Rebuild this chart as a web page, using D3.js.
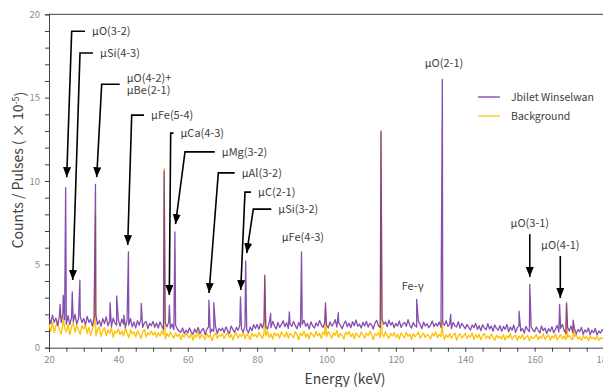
<!DOCTYPE html>
<html>
<head>
<meta charset="utf-8">
<script src="https://cdn.jsdelivr.net/npm/d3@7"></script>
<style>
  body { margin: 0; background: #fff; }
  text { font-family: "Noto Sans CJK JP", "Noto Sans", sans-serif; }
</style>
</head>
<body>
<svg id="chart" width="603" height="387"></svg>
<script>
var energyStart = 20, energyStep = 0.5;

var sampleBase = [
  1.85,1.45,1.95,1.52,1.78,1.32,1.90,1.50,2.05,1.68, 1.40,1.92,1.38,1.80,1.55,2.00,1.42,1.72,1.88,1.50,
  1.75,1.38,1.88,1.52,1.70,1.30,1.78,1.95,1.40,1.62, 1.28,1.74,1.45,1.85,1.32,1.60,1.25,1.78,1.48,1.35,
  1.66,1.28,1.72,1.42,1.20,1.65,1.35,1.75,1.25,1.55, 1.18,1.62,1.34,1.70,1.22,1.48,1.58,1.15,1.45,1.32,
  1.58,1.22,1.48,1.18,1.55,1.30,1.10,1.50,1.25,1.52, 1.15,1.42,1.08,1.35,1.12,1.00,0.92,1.18,0.85,1.05,
  0.88,1.18,0.95,0.80,1.12,0.90,1.22,0.84,1.05,1.15, 0.78,1.10,1.25,0.88,1.12,0.98,1.28,0.85,1.15,1.02,
  1.18,0.90,1.25,1.02,0.85,1.30,1.10,0.92,1.22,1.04, 1.35,1.12,0.95,1.28,1.10,0.88,1.24,1.02,1.38,1.15,
  1.40,1.10,1.45,1.18,1.55,1.25,1.12,1.50,1.20,1.58, 1.30,1.12,1.52,1.22,1.38,1.62,1.25,1.50,1.15,1.42,
  1.28,1.58,1.32,1.14,1.52,1.24,1.40,1.65,1.28,1.46, 1.12,1.55,1.32,1.18,1.48,1.30,1.64,1.36,1.22,1.52,
  1.38,1.18,1.55,1.30,1.44,1.68,1.24,1.50,1.35,1.14, 1.42,1.60,1.26,1.48,1.20,1.56,1.32,1.66,1.28,1.42,
  1.18,1.52,1.30,1.58,1.24,1.46,1.38,1.12,1.50,1.64, 1.30,1.22,1.72,1.40,1.55,1.26,1.65,1.36,1.52,1.20,
  1.46,1.30,1.60,1.22,1.42,1.52,1.28,1.68,1.34,1.18, 1.50,1.32,1.24,1.58,1.40,1.14,1.54,1.30,1.44,1.20,
  1.36,1.60,1.26,1.46,1.30,1.54,1.22,1.50,1.34,1.62, 1.28,1.42,1.14,1.52,1.32,1.24,1.56,1.18,1.46,1.30,
  1.14,1.40,1.22,1.06,1.36,1.20,1.46,1.10,1.32,1.02, 1.38,1.18,1.08,1.44,1.12,1.30,0.98,1.36,1.16,1.04,
  1.32,0.98,1.28,1.10,1.40,0.95,1.24,1.05,1.36,0.92, 1.20,1.32,1.00,1.16,0.88,1.28,1.08,0.96,1.26,1.06,
  0.96,1.24,1.06,0.88,1.30,1.02,1.18,0.85,1.14,0.98, 1.26,0.90,1.10,1.34,0.94,1.16,1.40,1.04,0.86,1.22,
  1.00,1.30,0.92,1.14,0.82,1.10,0.96,1.22,0.80,1.06, 0.94,1.18,0.78,1.04,0.90,1.16,0.76,1.00,0.88,1.08,
  0.96
];

var backgroundBase = [
  1.42,0.98,1.52,0.90,1.30,1.55,1.05,0.82,1.45,1.18, 0.95,1.38,0.78,1.25,1.50,0.92,1.35,1.05,0.80,1.32,
  1.12,1.40,0.85,1.22,0.75,1.10,1.35,0.70,1.08,1.25, 0.68,1.02,1.20,0.72,1.06,0.85,1.18,0.62,1.00,0.88,
  1.12,0.78,1.00,0.70,1.18,0.88,0.60,1.08,0.82,0.96, 0.66,1.02,0.80,0.55,0.94,1.10,0.64,0.90,0.78,1.00,
  0.75,0.95,0.62,0.90,0.70,1.00,0.80,0.52,0.86,0.66, 0.94,0.74,0.58,0.88,0.68,0.82,0.48,0.78,0.64,0.86,
  0.70,0.58,0.84,0.45,0.76,0.64,0.92,0.54,0.80,0.66, 0.50,0.86,0.62,0.78,0.42,0.72,0.88,0.56,0.76,0.68,
  0.84,0.55,0.74,0.94,0.60,0.80,0.46,0.76,0.88,0.58, 0.78,0.66,0.96,0.54,0.82,0.70,0.48,0.86,0.68,0.80,
  0.62,0.92,0.74,0.55,0.88,0.70,0.98,0.62,0.82,0.52, 0.90,0.72,0.84,0.58,0.96,0.76,0.64,0.94,0.56,0.86,
  0.74,0.60,0.96,0.78,0.48,0.88,0.72,1.00,0.62,0.84, 0.54,0.92,0.76,0.64,0.98,0.70,0.86,0.56,0.94,0.78,
  0.66,0.96,0.80,0.56,0.90,0.74,1.02,0.60,0.86,0.72, 0.52,0.92,0.78,0.98,0.66,0.84,0.54,0.88,0.74,0.62,
  0.94,0.76,0.58,0.88,0.70,0.98,0.78,0.48,0.84,0.74, 0.90,0.60,0.82,0.66,0.96,0.72,0.56,0.86,0.70,0.92,
  0.62,0.80,0.52,0.88,0.72,0.58,0.92,0.68,0.82,0.50, 0.84,0.66,0.78,0.94,0.56,0.74,0.88,0.60,0.80,0.70,
  0.52,0.86,0.70,0.96,0.60,0.80,0.66,0.90,0.50,0.78, 0.62,0.84,0.56,0.74,0.88,0.46,0.72,0.84,0.58,0.70,
  0.86,0.56,0.74,0.64,0.88,0.50,0.78,0.60,0.80,0.48, 0.72,0.86,0.56,0.70,0.54,0.82,0.62,0.44,0.76,0.60,
  0.68,0.52,0.80,0.46,0.72,0.58,0.84,0.50,0.66,0.76, 0.44,0.70,0.56,0.80,0.48,0.64,0.74,0.42,0.68,0.56,
  0.62,0.80,0.48,0.68,0.56,0.84,0.50,0.66,0.76,0.44, 0.70,0.58,0.82,0.48,0.64,0.78,0.52,0.70,0.46,0.62,
  0.74,0.56,0.48,0.68,0.78,0.52,0.64,0.44,0.72,0.56, 0.66,0.42,0.70,0.54,0.62,0.48,0.68,0.44,0.60,0.54,
  0.58
];

// peak tops [keV, counts]
var samplePeaks = [
  [23.2, 2.6], [24.1, 3.15], [24.8, 9.6], [26.7, 3.35], [28.9, 4.05], [33.4, 9.8],
  [37.6, 2.7], [39.5, 3.1], [41.6, 1.95], [42.9, 5.75], [46.6, 2.65], [53.2, 10.6],
  [54.7, 2.55], [56.3, 6.95], [66.1, 2.85], [67.5, 2.7], [75.2, 3.05], [76.7, 5.2],
  [82.2, 4.35], [83.9, 2.05], [89.3, 2.15], [92.8, 5.75], [99.7, 2.7], [103.4, 2.1],
  [115.7, 13.0], [126.0, 2.9], [133.4, 16.1], [135.8, 2.0], [155.5, 2.2], [158.6, 3.8],
  [167.2, 2.6], [169.2, 2.65], [171.1, 1.65]
];

var backgroundPeaks = [
  [24.1, 1.9], [33.4, 8.0], [53.2, 10.75], [82.2, 4.2], [99.7, 2.4], [115.7, 12.9],
  [133.4, 1.7], [169.2, 2.75], [171.1, 1.3]
];

var seriesNames = ["Jbilet Winselwan", "Background"];
var xTickLabels = [20, 40, 60, 80, 100, 120, 140, 160, 180];
var yTickLabels = [0, 5, 10, 15, 20];

// arrows: tip / elbow in [keV, counts], label start in keV
var arrowNotes = [
  { text: ["μO(3-2)"], tip: [25.10, 10.23], elbow: [26.54, 18.98], label: 32.4 },
  { text: ["μSi(4-3)"], tip: [26.83, 4.06], elbow: [28.94, 17.68], label: 34.7 },
  { text: ["μO(4-2)+", "μBe(2-1)"], tip: [33.75, 10.23], elbow: [35.19, 15.80], label: 42.4 },
  { text: ["μFe(5-4)"], tip: [42.69, 6.16], elbow: [43.84, 13.95], label: 49.4 },
  { text: ["μCa(4-3)"], tip: [54.68, 3.16], elbow: [55.08, 12.87], label: 57.9 },
  { text: ["μMg(3-2)"], tip: [56.47, 7.41], elbow: [59.21, 11.75], label: 69.8 },
  { text: ["μAl(3-2)"], tip: [66.13, 3.28], elbow: [68.81, 10.49], label: 75.55 },
  { text: ["μC(2-1)"], tip: [75.27, 3.46], elbow: [76.50, 9.33], label: 80.25 },
  { text: ["μSi(3-2)"], tip: [77.0, 5.68], elbow: [78.90, 8.31], label: 86.1 }
];
var downNotes = [
  { text: "μO(3-1)", x: 158.6, labelY: 7.49, start: 6.81, tip: 4.24 },
  { text: "μO(4-1)", x: 167.4, labelY: 6.16, start: 5.50, tip: 2.98 }
];
var plainNotes = [
  { text: "μFe(4-3)", x: 87.08, y: 6.65, anchor: "start" },
  { text: "μO(2-1)", x: 133.87, y: 17.05, anchor: "middle" },
  { text: "Fe-γ", x: 121.68, y: 3.70, anchor: "start" }
];

var colors = ["#7030A0", "#FFC000"];

function buildSeries(base, peaks) {
  var pts = base.map(function (v, i) { return [energyStart + i * energyStep, v]; });
  peaks.forEach(function (p) { pts.push(p); });
  return pts.sort(function (a, b) { return a[0] - b[0]; });
}

function draw() {
  var svg = d3.select("#chart");
  var x = d3.scaleLinear().domain([20, 180]).range([49, 604]);
  var y = d3.scaleLinear().domain([0, 20]).range([347.7, 14.3]);

  var defs = svg.append("defs");
  defs.append("marker")
    .attr("id", "arrow")
    .attr("markerUnits", "userSpaceOnUse")
    .attr("viewBox", "0 0 10 8")
    .attr("refX", 10).attr("refY", 4)
    .attr("markerWidth", 10).attr("markerHeight", 8)
    .attr("orient", "auto")
    .append("path").attr("d", "M0,0L10,4L0,8Z").attr("fill", "#000");

  // top border
  svg.append("line")
    .attr("x1", x(20)).attr("x2", 603)
    .attr("y1", y(20)).attr("y2", y(20))
    .attr("stroke", "#404040").attr("stroke-width", 1);

  var xAxis = d3.axisBottom(x)
    .tickValues(d3.range(20, 181, 5))
    .tickFormat(function (d) { return xTickLabels.indexOf(d) >= 0 ? d : ""; })
    .tickSize(4).tickPadding(5);
  var gx = svg.append("g").attr("transform", "translate(0," + y(0) + ")").call(xAxis);

  var yAxis = d3.axisLeft(y)
    .tickValues(d3.range(0, 21, 1))
    .tickFormat(function (d) { return yTickLabels.indexOf(d) >= 0 ? d : ""; })
    .tickSize(4).tickPadding(5);
  var gy = svg.append("g").attr("transform", "translate(" + x(20) + ",0)").call(yAxis);

  [gx, gy].forEach(function (g) {
    g.select(".domain").attr("stroke", "#404040");
    g.selectAll(".tick line").attr("stroke", "#404040");
    g.selectAll(".tick text").attr("fill", "#8c8c8c")
      .style("font-family", '"Noto Sans CJK JP", sans-serif').style("font-size", "9.5px");
  });

  var line = d3.line()
    .x(function (d) { return x(d[0]); })
    .y(function (d) { return y(d[1]); });

  var series = [
    { data: buildSeries(backgroundBase, backgroundPeaks), color: colors[1], op: 1 },
    { data: buildSeries(sampleBase, samplePeaks), color: colors[0], op: 0.85 }
  ];
  svg.append("g").selectAll("path").data(series).enter().append("path")
    .attr("d", function (d) { return line(d.data); })
    .attr("fill", "none")
    .attr("stroke", function (d) { return d.color; })
    .attr("stroke-opacity", function (d) { return d.op; })
    .attr("stroke-width", 1.3)
    .attr("stroke-linejoin", "round");

  // elbow arrows
  var notes = svg.append("g");
  arrowNotes.forEach(function (n) {
    var ex = x(n.elbow[0]), ey = y(n.elbow[1]), lx = x(n.label);
    notes.append("path")
      .attr("d", "M" + (lx - 7) + "," + ey + "L" + ex + "," + ey + "L" + x(n.tip[0]) + "," + y(n.tip[1]))
      .attr("fill", "none").attr("stroke", "#000").attr("stroke-width", 1.6)
      .attr("marker-end", "url(#arrow)");
    var t = notes.append("text")
      .attr("x", lx).attr("y", ey - (n.text.length - 1) * 5.8)
      .attr("font-size", 11).attr("fill", "#404040");
    n.text.forEach(function (s, i) {
      t.append("tspan").attr("x", lx).attr("dy", i === 0 ? "0.35em" : 11.6).text(s);
    });
  });

  downNotes.forEach(function (n) {
    notes.append("line")
      .attr("x1", x(n.x)).attr("x2", x(n.x))
      .attr("y1", y(n.start)).attr("y2", y(n.tip))
      .attr("stroke", "#000").attr("stroke-width", 1.6)
      .attr("marker-end", "url(#arrow)");
    notes.append("text")
      .attr("x", x(n.x)).attr("y", y(n.labelY)).attr("dy", "0.35em")
      .attr("text-anchor", "middle")
      .attr("font-size", 11).attr("fill", "#404040").text(n.text);
  });

  plainNotes.forEach(function (n) {
    notes.append("text")
      .attr("x", x(n.x)).attr("y", y(n.y)).attr("dy", "0.35em")
      .attr("text-anchor", n.anchor)
      .attr("font-size", 11).attr("fill", "#404040").text(n.text);
  });

  // legend
  var legend = svg.append("g");
  seriesNames.forEach(function (name, i) {
    var ly = 97 + i * 19;
    legend.append("line")
      .attr("x1", 478).attr("x2", 500).attr("y1", ly).attr("y2", ly)
      .attr("stroke", colors[i]).attr("stroke-width", 1.2);
    legend.append("text")
      .attr("x", 511).attr("y", ly).attr("dy", "0.35em")
      .attr("font-size", 10.5).attr("fill", "#404040").text(name);
  });

  // axis titles
  svg.append("text")
    .attr("x", 345).attr("y", 384)
    .attr("text-anchor", "middle")
    .attr("font-size", 14).attr("fill", "#404040")
    .text("Energy (keV)");

  var yt = svg.append("text")
    .attr("transform", "translate(23,170) rotate(-90)")
    .attr("text-anchor", "middle")
    .attr("font-size", 14).attr("fill", "#404040");
  yt.append("tspan").text("Counts / Pulses ( × 10");
  yt.append("tspan").attr("dy", "-0.45em").attr("font-size", 9).text("-5");
  yt.append("tspan").attr("dy", "0.45em").text(")");
}

draw();
</script>
</body>
</html>
